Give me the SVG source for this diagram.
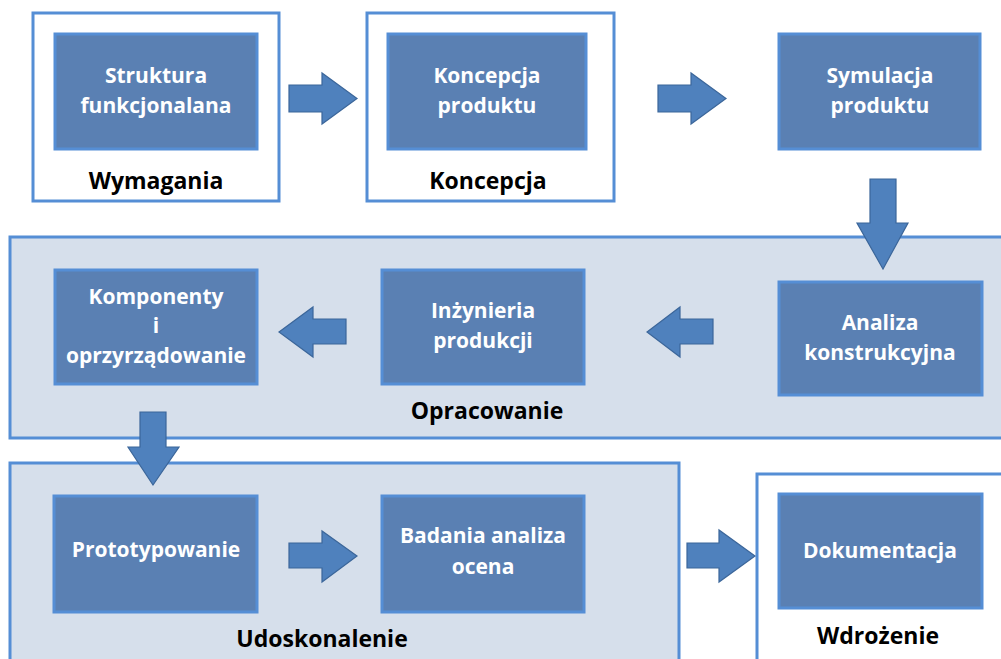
<svg xmlns="http://www.w3.org/2000/svg" width="1001" height="659" viewBox="0 0 1001 659">
<style>
.outer{fill:#ffffff;stroke:#558ed5;stroke-width:3}
.band{fill:#d6dfeb;stroke:#558ed5;stroke-width:3}
.node{fill:#5a80b3;stroke:#558ed5;stroke-width:3}
.arr{fill:#4f81bd;stroke:#3b669a;stroke-width:1.2}
.t{font-family:"Open Sans",Lato,sans-serif;font-weight:bold;font-size:21px;fill:#ffffff;text-anchor:middle}
.lbl{font-family:"Open Sans",Lato,sans-serif;font-weight:bold;font-size:23px;fill:#000000;text-anchor:middle}
</style>
<rect width="1001" height="659" fill="#ffffff"/>
<g id="groups">
<g id="wymagania"><rect class="outer" x="33" y="13" width="246" height="188"/><text class="lbl" x="156" y="189">Wymagania</text></g>
<g id="koncepcja"><rect class="outer" x="367" y="13" width="247" height="188"/><text class="lbl" x="488" y="189">Koncepcja</text></g>
<g id="opracowanie"><rect class="band" x="10" y="237" width="1000" height="201"/><text class="lbl" x="487" y="419">Opracowanie</text></g>
<g id="udoskonalenie"><rect class="band" x="10" y="463" width="669" height="210"/><text class="lbl" x="322" y="647">Udoskonalenie</text></g>
<g id="wdrozenie"><rect class="outer" x="757" y="474" width="260" height="200"/><text class="lbl" x="878" y="644">Wdrożenie</text></g>
</g>
<g id="connectors">
<polygon class="arr" points="289,85 322,85 322,73 357,98.5 322,124 322,112 289,112"/>
<polygon class="arr" points="658,85 691,85 691,73 726,98.5 691,124 691,112 658,112"/>
<polygon class="arr" points="870,179 896,179 896,223 908,223 883,269 857,223 870,223"/>
<polygon class="arr" points="713,319 680,319 680,307 647,332 680,357 680,344 713,344"/>
<polygon class="arr" points="346,319 313,319 313,307 279,332 313,357 313,344 346,344"/>
<polygon class="arr" points="140,412 166,412 166,447 179,447 153,485 128,447 140,447"/>
<polygon class="arr" points="289,543 322,543 322,531 357,556 322,582 322,568 289,568"/>
<polygon class="arr" points="687,543 719,543 719,530 755,556 719,582 719,568 687,568"/>
</g>
<g id="n-struktura"><rect class="node" x="55" y="34" width="202" height="115"/><text class="t" x="156" y="83">Struktura</text><text class="t" x="156" y="113">funkcjonalana</text></g>
<g id="n-koncepcja"><rect class="node" x="388" y="34" width="198" height="115"/><text class="t" x="487" y="83">Koncepcja</text><text class="t" x="487" y="113">produktu</text></g>
<g id="n-symulacja"><rect class="node" x="779" y="34" width="201" height="115"/><text class="t" x="880" y="83">Symulacja</text><text class="t" x="880" y="113">produktu</text></g>
<g id="n-analiza"><rect class="node" x="779" y="282" width="203" height="113"/><text class="t" x="880" y="330">Analiza</text><text class="t" x="880" y="360">konstrukcyjna</text></g>
<g id="n-inzynieria"><rect class="node" x="382" y="270" width="202" height="114"/><text class="t" x="483" y="318">Inżynieria</text><text class="t" x="483" y="348">produkcji</text></g>
<g id="n-komponenty"><rect class="node" x="55" y="270" width="202" height="114"/><text class="t" x="156" y="304">Komponenty</text><text class="t" x="156" y="333">i</text><text class="t" x="156" y="363">oprzyrządowanie</text></g>
<g id="n-prototypowanie"><rect class="node" x="54" y="496" width="203" height="116"/><text class="t" x="156" y="557">Prototypowanie</text></g>
<g id="n-badania"><rect class="node" x="382" y="496" width="202" height="116"/><text class="t" x="483" y="543">Badania analiza</text><text class="t" x="483" y="574">ocena</text></g>
<g id="n-dokumentacja"><rect class="node" x="779" y="494" width="203" height="114"/><text class="t" x="880" y="558">Dokumentacja</text></g>
</svg>
